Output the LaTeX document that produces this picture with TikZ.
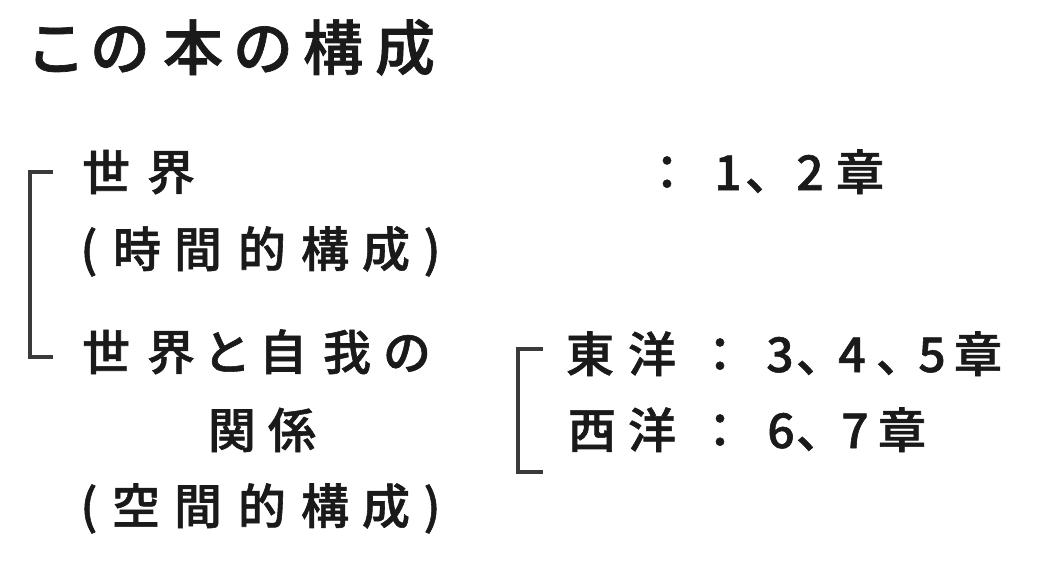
\documentclass[tikz,border=0pt]{standalone}
\usepackage{fontspec}
\newfontfamily\jp{Noto Sans CJK JP}[UprightFont={* Medium},FakeBold=1.2]
\definecolor{ink}{HTML}{1A1A1A}
\definecolor{brk}{HTML}{3A3A3A}
\newcommand{\lpar}{(}
\newcommand{\rpar}{)}
\tikzset{
  ch/.style={inner sep=0pt, anchor=base, text=ink, font=\jp\fontsize{48}{48}\selectfont},
  tch/.style={inner sep=0pt, anchor=base, text=ink, font=\jp\fontsize{60}{60}\selectfont},
  brack/.style={draw=brk, line width=3.4pt, line cap=butt, line join=miter}
}
\begin{document}
\begin{tikzpicture}[x=1pt,y=-1pt]
\useasboundingbox (0,0) rectangle (1040,560);
% title
\foreach \c/\x [count=\i] in {こ/56,の/120,本/193,の/263,構/333,成/405}
  \node[tch] (t\i) at (\x,70) {\c};
% left column
\foreach \c/\x [count=\i] in {世/106,界/171}
  \node[ch] (a\i) at (\x,190) {\c};
\foreach \c/\x [count=\i] in {\lpar/89,時/137,間/198,的/262,構/325,成/386,\rpar/432}
  \node[ch] (b\i) at (\x,267) {\c};
\foreach \c/\x [count=\i] in {世/106,界/171,と/227,自/283,我/347,の/407}
  \node[ch] (c\i) at (\x,370) {\c};
\foreach \c/\x [count=\i] in {関/232,係/292}
  \node[ch] (d\i) at (\x,448) {\c};
\foreach \c/\x [count=\i] in {\lpar/89,空/136,間/198,的/262,構/325,成/386,\rpar/432}
  \node[ch] (e\i) at (\x,524) {\c};
% right column
\foreach \c/\x [count=\i] in {：/667,1/728,、/769,2/810,章/860}
  \node[ch] (f\i) at (\x,190) {\c};
\foreach \c/\x [count=\i] in {東/590,洋/652,：/720,3/780,、/820,4/852,、/900,5/932,章/978}
  \node[ch] (g\i) at (\x,372) {\c};
\foreach \c/\x [count=\i] in {西/592,洋/652,：/720,6/781,、/820,7/855,章/902}
  \node[ch] (h\i) at (\x,448) {\c};
% brackets
\coordinate (p1) at (53,172);
\coordinate (p2) at (30,172);
\coordinate (p3) at (30,357);
\coordinate (p4) at (53,357);
\draw[brack] (p1) -- (p2) -- (p3) -- (p4);
\coordinate (q1) at (543,349);
\coordinate (q2) at (518,349);
\coordinate (q3) at (518,472);
\coordinate (q4) at (543,472);
\draw[brack] (q1) -- (q2) -- (q3) -- (q4);
\end{tikzpicture}
\end{document}
